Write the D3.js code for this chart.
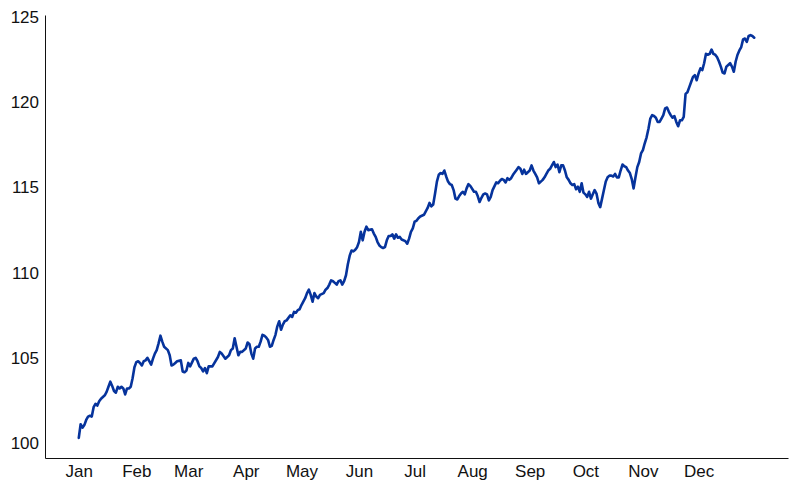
<!DOCTYPE html>
<html>
<head>
<meta charset="utf-8">
<script src="https://cdn.jsdelivr.net/npm/d3@7"></script>
<style>
  html, body { margin: 0; padding: 0; background: #fff; }
  svg { display: block; }
  .axis text { font-family: "Liberation Sans", Arial, Helvetica, sans-serif; font-size: 17px; fill: #111; }
  .axis path { stroke: #111; stroke-width: 1; }
</style>
</head>
<body>
<svg id="chart" width="797" height="490"></svg>
<script>
// Day of year (0 = 1 Jan) for each observation
const days = [0,1,2,3,4,5,6,7,8,9,10,11,12,14,15,16,17,18,19,20,21,22,23,24,25,26,27,28,29,30,
31,32,33,34,35,36,37,38,39,40,41,42,43,44,45,46,48,49,50,51,52,53,55,56,57,58,59,60,62,63,
64,65,66,67,68,69,70,72,75,76,77,79,80,81,82,83,84,85,86,87,88,90,91,92,93,94,95,96,97,98,
99,100,101,102,103,104,105,106,107,108,109,110,111,112,114,115,116,117,118,119,120,121,122,123,124,125,126,127,128,129,
130,132,133,134,135,136,137,138,139,140,141,142,143,144,145,146,147,148,149,150,151,152,153,154,155,156,158,159,160,161,
162,163,164,165,166,167,168,169,170,171,172,173,174,176,177,178,179,180,181,182,183,184,186,187,188,189,190,191,192,193,
194,195,196,197,198,199,200,201,202,203,204,205,206,207,208,209,210,211,213,214,215,216,217,218,219,220,221,222,223,225,
226,227,228,229,230,231,232,233,234,235,236,237,238,239,240,241,242,243,244,245,246,247,248,249,250,251,252,253,254,255,
256,257,258,259,260,261,262,263,264,265,266,267,268,269,270,271,272,273,274,275,276,277,278,279,280,281,282,283,284,285,
286,287,288,289,290,291,292,293,294,295,296,297,298,299,300,301,302,303,304,305,306,307,308,309,310,311,312,313,314,315,
316,317,318,319,320,321,322,323,324,325,326,327,328,329,330,331,332,333,334,335,336,337,338,339,340,341,342,343,344,345,
346,347,348,349,350,351,352,353,354,355,356,357,358,359,360,361,362,363,364];

const values = [100.3,101.1,100.9,101.05,101.35,101.55,101.6,101.55,102.1,102.3,102.2,102.45,102.6,102.8,103.0,103.3,103.6,103.35,103.05,102.95,103.3,103.2,103.3,103.2,102.85,103.2,103.2,103.3,103.8,104.45,
104.75,104.8,104.7,104.55,104.8,104.85,105.0,104.8,104.6,104.95,105.25,105.45,105.85,106.3,105.95,105.65,105.45,105.15,104.55,104.6,104.7,104.8,104.85,104.2,104.15,104.25,104.7,104.5,104.95,105.0,
104.8,104.5,104.4,104.2,104.4,104.1,104.5,104.5,105.05,105.35,105.25,104.95,105.05,105.15,105.45,105.55,106.15,105.65,105.15,105.35,105.35,105.55,105.9,105.8,105.25,104.95,105.55,105.65,105.65,105.95,
106.35,106.3,106.2,106.05,105.65,105.7,106.05,106.35,106.85,107.15,106.65,106.95,107.15,107.2,107.5,107.4,107.7,107.65,107.8,107.85,108.1,108.3,108.5,108.8,109.0,108.7,108.3,108.8,108.6,108.5,
108.7,108.8,109.0,109.1,109.3,109.55,109.5,109.4,109.3,109.5,109.55,109.3,109.5,109.85,110.5,111.0,111.3,111.25,111.35,111.5,111.8,112.4,111.9,112.4,112.7,112.5,112.55,112.3,112.1,111.8,
111.6,111.5,111.45,111.5,111.9,112.15,112.15,112.25,112.0,112.25,112.05,112.1,111.95,111.85,111.7,112.0,112.4,112.6,113.0,113.05,113.2,113.3,113.4,113.6,113.8,114.1,113.9,114.0,114.65,115.35,
115.75,115.85,115.8,116.0,115.65,115.35,115.2,115.15,114.85,114.35,114.3,114.5,114.65,114.75,114.6,114.95,115.2,115.1,114.75,114.75,114.5,114.15,114.4,114.6,114.65,114.6,114.25,114.45,114.85,115.3,
115.25,115.4,115.5,115.45,115.3,115.55,115.45,115.55,115.75,115.9,116.05,116.2,116.1,115.8,116.05,115.8,115.9,116.0,116.3,116.0,115.8,115.6,115.25,115.35,115.45,115.6,115.8,116.0,116.1,116.3,
116.5,116.2,116.35,115.9,116.3,116.3,116.0,115.6,115.45,115.25,115.15,115.2,114.9,115.05,114.75,115.25,114.7,114.6,114.45,114.75,114.35,114.6,114.85,114.65,114.1,113.85,114.35,114.85,115.35,115.6,
115.7,115.7,115.65,115.8,115.6,115.6,116.0,116.35,116.25,116.2,116.0,115.85,115.5,114.95,115.6,116.2,116.5,117.0,117.2,117.6,117.95,118.45,119.05,119.25,119.2,119.1,118.85,118.85,119.05,119.25,
119.65,119.7,119.45,119.25,119.1,119.2,118.85,118.6,118.95,118.95,119.15,120.5,120.6,120.9,121.2,121.5,121.6,121.3,121.7,122.0,121.9,122.3,122.85,122.8,122.85,123.1,122.85,122.8,122.65,122.4,
122.1,121.75,121.7,122.1,122.2,122.3,122.1,121.8,122.4,122.8,123.05,123.25,123.7,123.75,123.55,123.9,123.95,123.9,123.8];

const year = 2023;
const monthLabels = ["Jan","Feb","Mar","Apr","May","Jun","Jul","Aug","Sep","Oct","Nov","Dec"];
const yTicks = [100, 105, 110, 115, 120, 125];

const start = new Date(year, 0, 1);
const data = days.map((d, i) => ({ date: d3.timeDay.offset(start, d), value: values[i] }));

const svg = d3.select("#chart");
const margin = { left: 45, right: 9, top: 15, bottom: 32 };
const W = 797, H = 490;

// 5% padding around the data extent, both directions
const dayMs = 864e5;
const [d0, d1] = d3.extent(data, d => d.date);
const padX = (d1 - d0) * 0.05;
const x = d3.scaleTime()
  .domain([new Date(+d0 - padX), new Date(+d1 + padX)])
  .range([margin.left, W - margin.right]);

const [v0, v1] = d3.extent(values);
const padY = (v1 - v0) * 0.05;
const y = d3.scaleLinear()
  .domain([v0 - padY, v1 + padY])
  .range([H - margin.bottom, margin.top]);

const monthStarts = monthLabels.map((m, i) => new Date(year, i, 1));

svg.append("g")
  .attr("class", "axis x")
  .attr("transform", `translate(0,${H - margin.bottom})`)
  .call(d3.axisBottom(x).tickValues(monthStarts).tickSize(0).tickPadding(7)
    .tickFormat((d, i) => monthLabels[i]));

svg.append("g")
  .attr("class", "axis y")
  .attr("transform", `translate(${margin.left},0)`)
  .call(d3.axisLeft(y).tickValues(yTicks).tickSize(0).tickPadding(6));

svg.selectAll(".axis path").attr("d", function() {
  return d3.select(this).attr("d");
});

const line = d3.line()
  .x(d => x(d.date))
  .y(d => y(d.value))
  .curve(d3.curveLinear);

svg.append("path")
  .datum(data)
  .attr("fill", "none")
  .attr("stroke", "#06339c")
  .attr("stroke-width", 2.6)
  .attr("stroke-linejoin", "round")
  .attr("stroke-linecap", "round")
  .attr("d", line);
</script>
</body>
</html>
